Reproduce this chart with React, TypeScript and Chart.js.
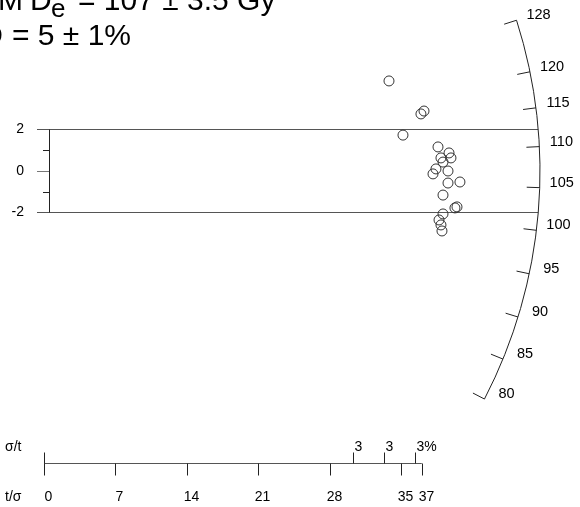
import React, { useEffect, useRef } from "react";
import { Chart, registerables } from "chart.js";

Chart.register(...registerables);

// ---- data ----
const precision = [33.79, 37.22, 36.92, 35.16, 38.59, 39.67, 39.86, 38.88, 39.08, 38.39, 39.57, 38.1, 39.57, 40.74, 39.08, 40.45, 40.25, 39.08, 38.69, 38.88, 38.98];
const standardized = [4.34, 2.89, 2.75, 1.73, 1.16, 0.87, 0.63, 0.63, 0.43, 0.1, 0.0, -0.14, -0.58, -0.53, -1.16, -1.73, -1.78, -2.07, -2.36, -2.6, -2.89];
const arcTickValues = [80, 85, 90, 95, 100, 105, 110, 115, 120, 128];
const tSigmaTicks = [0, 7, 14, 21, 28, 35, 37];
const sigmaTPercents = [3.3, 3.0, 2.75];
const zAxisMinorTicks = [-1, 1];
const zAxisMajorTicks = [-2, 0, 2];
const centralValue = 107;
const centralError = 3.5;
const overdispersion = 5;
const overdispersionError = 1;

// ---- geometry constants ----
const X_MIN = -4.3095;
const X_MAX = 52.498;
const Y_MIN = -16.193;
const Y_MAX = 8.241;
const ARC_RADIUS = 48.58; // in t/sigma units
const SLOPE_FACTOR = 0.876;
const Z_AXIS_X = 0.49;
const RULER_Y = -14.07;

const FONT = '"Liberation Sans", Arial, Helvetica, sans-serif';

const radialPlugin = {
  id: "radialDecor",
  beforeDatasetsDraw(chart: any) {
    const ctx = chart.ctx as CanvasRenderingContext2D;
    const xs = chart.scales.x;
    const ys = chart.scales.y;
    const ox = xs.getPixelForValue(0);
    const oy = ys.getPixelForValue(0);
    const pxX = xs.getPixelForValue(1) - ox;
    const pxY = oy - ys.getPixelForValue(1);
    const R = ARC_RADIUS * pxX;
    const dirFor = (v: number) => {
      const s = SLOPE_FACTOR * Math.log(v / centralValue);
      const dx = pxX;
      const dy = -pxY * s;
      const n = Math.hypot(dx, dy);
      return [dx / n, dy / n];
    };
    ctx.save();
    // +-2 band lines
    ctx.strokeStyle = "#555";
    ctx.lineWidth = 1;
    const zx = Math.round(xs.getPixelForValue(Z_AXIS_X));
    [2, -2].forEach((z) => {
      const y = Math.round(ys.getPixelForValue(z));
      const dy = y - oy;
      const xe = ox + Math.sqrt(R * R - dy * dy);
      ctx.beginPath();
      ctx.moveTo(zx - 12, y + 0.5);
      ctx.lineTo(xe, y + 0.5);
      ctx.stroke();
    });
    // z axis
    ctx.strokeStyle = "#222";
    ctx.beginPath();
    ctx.moveTo(zx + 0.5, ys.getPixelForValue(2));
    ctx.lineTo(zx + 0.5, ys.getPixelForValue(-2));
    ctx.stroke();
    zAxisMinorTicks.forEach((z) => {
      const y = Math.round(ys.getPixelForValue(z)) + 0.5;
      ctx.beginPath();
      ctx.moveTo(zx - 6, y);
      ctx.lineTo(zx, y);
      ctx.stroke();
    });
    ctx.strokeStyle = "#777";
    {
      const y = Math.round(oy) + 0.5;
      ctx.beginPath();
      ctx.moveTo(zx - 12, y);
      ctx.lineTo(zx, y);
      ctx.stroke();
    }
    ctx.fillStyle = "#000";
    ctx.font = `14px ${FONT}`;
    ctx.textAlign = "right";
    ctx.textBaseline = "middle";
    zAxisMajorTicks.forEach((z) => {
      ctx.fillText(String(z), zx - 25, ys.getPixelForValue(z));
    });

    // arc
    const d128 = dirFor(arcTickValues[arcTickValues.length - 1]);
    const d80 = dirFor(arcTickValues[0]);
    const aStart = Math.atan2(d128[1], d128[0]);
    const aEnd = Math.atan2(d80[1], d80[0]);
    ctx.strokeStyle = "#222";
    ctx.beginPath();
    ctx.arc(ox, oy, R, aStart, aEnd, false);
    ctx.stroke();
    ctx.textAlign = "center";
    ctx.font = `14.5px ${FONT}`;
    arcTickValues.forEach((v) => {
      const [ux, uy] = dirFor(v);
      const px = ox + ux * R;
      const py = oy + uy * R;
      ctx.beginPath();
      ctx.moveTo(px, py);
      ctx.lineTo(px - ux * 13, py - uy * 13);
      ctx.stroke();
      ctx.fillText(String(v), px + 22, py - 5);
    });

    // bottom ruler
    ctx.font = `14px ${FONT}`;
    const ry = Math.round(ys.getPixelForValue(RULER_Y)) + 0.5;
    const rx0 = xs.getPixelForValue(0);
    const rx1 = xs.getPixelForValue(tSigmaTicks[tSigmaTicks.length - 1]);
    ctx.strokeStyle = "#555";
    ctx.beginPath();
    ctx.moveTo(rx0, ry);
    ctx.lineTo(rx1, ry);
    ctx.stroke();
    ctx.strokeStyle = "#222";
    ctx.beginPath();
    ctx.moveTo(Math.round(rx0) + 0.5, ry - 11);
    ctx.lineTo(Math.round(rx0) + 0.5, ry);
    ctx.stroke();
    ctx.textBaseline = "middle";
    tSigmaTicks.forEach((t) => {
      const x = Math.round(xs.getPixelForValue(t)) + 0.5;
      ctx.beginPath();
      ctx.moveTo(x, ry);
      ctx.lineTo(x, ry + 12);
      ctx.stroke();
      ctx.textAlign = "center";
      ctx.fillText(String(t), x + 4, ry + 34);
    });
    sigmaTPercents.forEach((p, i) => {
      const x = Math.round(xs.getPixelForValue(100 / p)) + 0.5;
      ctx.beginPath();
      ctx.moveTo(x, ry);
      ctx.lineTo(x, ry - 11);
      ctx.stroke();
      ctx.textAlign = "left";
      const lab = String(Math.round(p)) + (i === sigmaTPercents.length - 1 ? "%" : "");
      ctx.fillText(lab, x + 1, ry - 16);
    });
    ctx.textAlign = "left";
    ctx.fillText("σ/t", 5, ry - 16);
    ctx.fillText("t/σ", 5, ry + 34);

    // title
    ctx.textBaseline = "alphabetic";
    ctx.font = `30px ${FONT}`;
    ctx.textAlign = "right";
    ctx.fillText("CAM", 23, 10);
    ctx.textAlign = "left";
    ctx.fillText("D", 30, 10);
    ctx.font = `26px ${FONT}`;
    ctx.fillText("e", 51, 17);
    ctx.font = `30px ${FONT}`;
    ctx.fillText(`= ${centralValue} ± ${centralError} Gy`, 78, 10);
    ctx.textAlign = "right";
    ctx.fillText("OD", 3, 45);
    ctx.textAlign = "left";
    ctx.fillText(`= ${overdispersion} ± ${overdispersionError}%`, 12, 45);
    ctx.restore();
  },
};

export default function App() {
  const ref = useRef<HTMLCanvasElement | null>(null);
  useEffect(() => {
    if (!ref.current) return;
    const chart = new Chart(ref.current, {
      type: "scatter",
      data: {
        datasets: [
          {
            data: precision.map((x, i) => ({ x, y: standardized[i] })),
            pointRadius: 5,
            pointStyle: "circle",
            borderColor: "#333",
            backgroundColor: "rgba(0,0,0,0)",
            borderWidth: 1,
          },
        ],
      },
      options: {
        animation: false,
        responsive: false,
        events: [],
        layout: { padding: 0, autoPadding: false },
        plugins: { legend: { display: false }, tooltip: { enabled: false }, title: { display: false } },
        scales: {
          x: { type: "linear", min: X_MIN, max: X_MAX, display: false },
          y: { type: "linear", min: Y_MIN, max: Y_MAX, display: false },
        },
      },
      plugins: [radialPlugin],
    });
    return () => chart.destroy();
  }, []);
  return (
    <div style={{ position: "fixed", left: 0, top: 0, width: 580, height: 507, background: "#fff" }}>
      <canvas ref={ref} width={580} height={507} style={{ display: "block", width: 580, height: 507 }} />
    </div>
  );
}
